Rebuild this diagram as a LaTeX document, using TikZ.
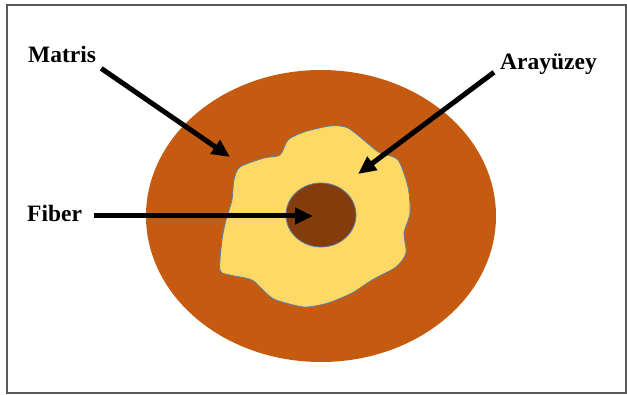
\documentclass[tikz,border=0pt]{standalone}
\usepackage{fontspec}
\setmainfont{Liberation Serif}
\usetikzlibrary{arrows.meta}

\definecolor{matriscol}{HTML}{C55A11}
\definecolor{arayuzcol}{HTML}{FFD966}
\definecolor{fibercol}{HTML}{843C0C}
\definecolor{edgecol}{HTML}{5B7FA6}

\tikzset{
  etiket/.style={font=\fontsize{23.5}{25}\selectfont\bfseries, inner sep=0pt},
  okbas/.style={line width=5pt, -{Triangle[length=18pt,width=16pt]}}
}

\begin{document}
\begin{tikzpicture}[x=1pt,y=-1pt]
\useasboundingbox (0,0) rectangle (627,395);
\draw[line width=1.8pt, black!65] (7,5) rectangle (626,393);

% matris
\fill[matriscol] (321,216) ellipse [x radius=175, y radius=146];

% arayuzey
\draw[fill=arayuzcol, draw=edgecol, line width=0.8pt] plot[smooth cycle, tension=0.45] coordinates {
  (330,126) (304,132) (288,140) (280,155) (264,158) (240,167) (234,180)
  (232,200) (226,220) (222,240) (220,270) (230,275) (252,280) (266,293)
  (276,300) (304,307) (328,303) (352,293) (372,280) (396,267) (406,253)
  (404,233) (410,213) (408,187) (398,160) (380,153) (372,147) (348,128)};

% fiber
\draw[fill=fibercol, draw=edgecol, line width=0.8pt] (321,215) ellipse [x radius=35, y radius=32];

\node[etiket, anchor=base west] (Matris) at (28,63) {Matris};
\node[etiket, anchor=base west] (Arayuzey) at (500,70) {Arayüzey};
\node[etiket, anchor=base west] (Fiber) at (27,222) {Fiber};

\coordinate (M) at (230,157);
\coordinate (A) at (358,174);
\coordinate (F) at (313,216);

\draw[okbas] (Matris.south east) ++(5,5) -- (M);
\draw[okbas] (Arayuzey.south west) ++(-6,-3) -- (A);
\draw[okbas] (Fiber.east |- F) ++(12,0) -- (F);
\end{tikzpicture}
\end{document}
